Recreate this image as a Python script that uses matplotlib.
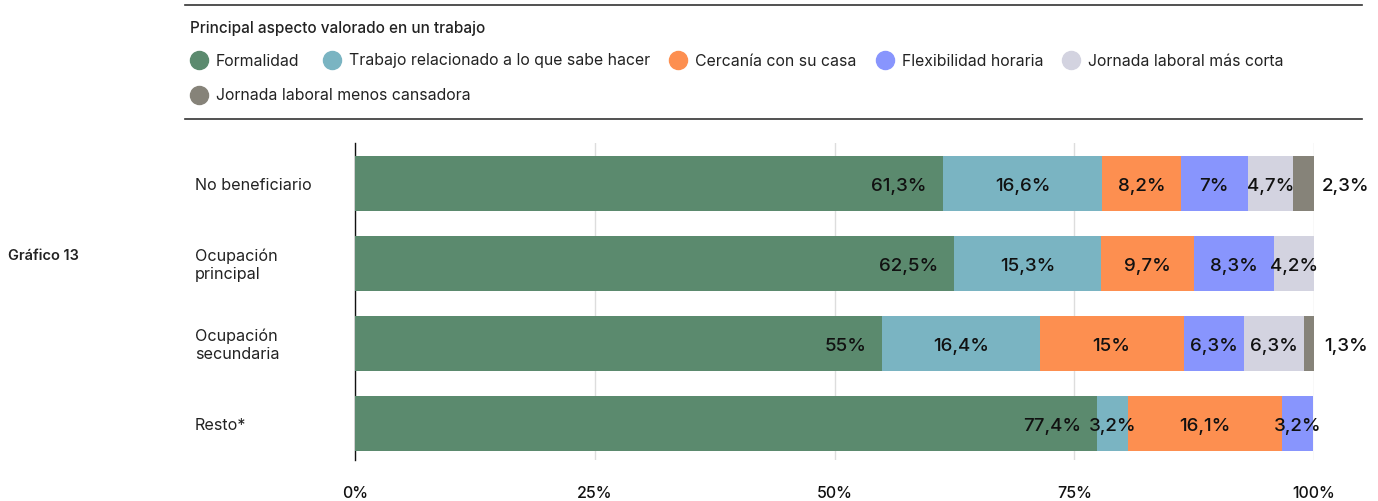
import matplotlib.pyplot as plt
from matplotlib.lines import Line2D

plt.rcParams['font.family'] = ['Inter', 'DejaVu Sans']

# datos
categorias = ["No beneficiario", "Ocupación\nprincipal", "Ocupación\nsecundaria", "Resto*"]
series = ["Formalidad", "Trabajo relacionado a lo que sabe hacer", "Cercanía con su casa",
          "Flexibilidad horaria", "Jornada laboral más corta", "Jornada laboral menos cansadora"]
formalidad = [61.3, 62.5, 55.0, 77.4]
trabajo_rel = [16.6, 15.3, 16.4, 3.2]
cercania = [8.2, 9.7, 15.0, 16.1]
flexibilidad = [7.0, 8.3, 6.3, 3.2]
jornada_corta = [4.7, 4.2, 6.3, 0]
jornada_menos = [2.3, 0, 1.3, 0]
ticks = [0, 25, 50, 75, 100]
tick_labels = ["0%", "25%", "50%", "75%", "100%"]

colores = ["#5b8a6e", "#7ab4c2", "#fd8f50", "#8895fd", "#d3d3e0", "#868379"]
valores = [formalidad, trabajo_rel, cercania, flexibilidad, jornada_corta, jornada_menos]

W, H = 1378, 501
fig = plt.figure(figsize=(W / 100, H / 100), dpi=100)
ax = fig.add_axes([355 / W, 1 - 460 / H, (1314 - 355) / W, (460 - 143) / H])

y = list(range(len(categorias)))
izq = [0.0] * len(categorias)
for k, (vals, col) in enumerate(zip(valores, colores)):
    ax.barh(y, vals, left=izq, height=0.69, color=col, zorder=3)
    for i, v in enumerate(vals):
        if v <= 0:
            continue
        txt = f"{v:g}".replace(".", ",") + "%"
        kw = dict(va="center", fontsize=13.5, fontweight="medium", color="#111111", zorder=4)
        yt = i + 0.035
        if k == 0:
            ax.text(izq[i] + v - 1.7, yt, txt, ha="right", **kw)
        elif v < 3:
            # etiqueta fuera de la barra
            ax.text(103.3, yt, txt, ha="center", **kw)
        else:
            ax.text(izq[i] + v / 2, yt, txt, ha="center", **kw)
        izq[i] += v

ax.set_xlim(0, 100)
ax.set_ylim(3.46, -0.51)
ax.set_xticks(ticks)
ax.set_xticklabels(tick_labels, fontsize=11.5, fontweight="medium", color="#111111")
ax.tick_params(axis="x", length=0, pad=19)
ax.set_yticks([])
ax.grid(axis="x", color="#dddddd", linewidth=1, zorder=0)
for s in ["top", "right", "bottom"]:
    ax.spines[s].set_visible(False)
ax.spines["left"].set_color("#111111")
ax.spines["left"].set_linewidth(1)

for i, c in enumerate(categorias):
    yy = 1 - (185 + 80 * i) / H
    fig.text(195 / W, yy, c, ha="left", va="center", fontsize=11.6, color="#222222", linespacing=1.25)

fig.text(8 / W, 1 - 256 / H, "Gráfico 13", ha="left", va="center", fontsize=10.5, fontweight="semibold", color="#222222")

# cabecera y leyenda
fig.add_artist(Line2D([185 / W, 1362 / W], [1 - 5 / H, 1 - 5 / H], color="#333333", lw=1.2))
fig.add_artist(Line2D([185 / W, 1362 / W], [1 - 119 / H, 1 - 119 / H], color="#333333", lw=1.2))
fig.text(190 / W, 1 - 28 / H, "Principal aspecto valorado en un trabajo", ha="left", va="center",
         fontsize=11, fontweight="medium", color="#222222")

pos = [(199, 60), (332, 60), (678, 60), (885, 60), (1071, 60), (199, 95)]
for (px, py), lab, col in zip(pos, series, colores):
    fig.add_artist(Line2D([px / W], [1 - py / H], marker="o", markersize=13, color=col, linestyle="none"))
    fig.text((px + 17) / W, 1 - (py + 1) / H, lab, ha="left", va="center", fontsize=11.4, color="#222222")

fig.savefig("out.png", dpi=100)
